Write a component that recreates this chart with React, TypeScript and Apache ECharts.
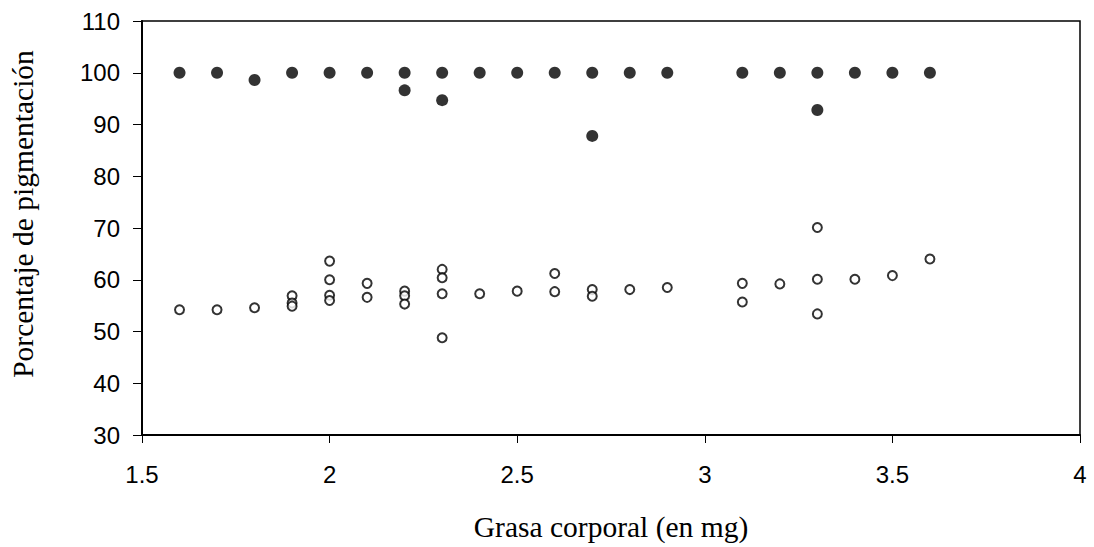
import React, { useEffect, useRef } from "react";
import * as echarts from "echarts";

const xTickLabels = ["1.5", "2", "2.5", "3", "3.5", "4"];
const yTickLabels = ["30", "40", "50", "60", "70", "80", "90", "100", "110"];

const filledX = [1.6, 1.7, 1.8, 1.9, 2.0, 2.1, 2.2, 2.2, 2.3, 2.3, 2.4, 2.5, 2.6, 2.7, 2.7, 2.8, 2.9, 3.1, 3.2, 3.3, 3.3, 3.4, 3.5, 3.6];
const filledY = [100, 100, 98.6, 100, 100, 100, 100, 96.6, 100, 94.7, 100, 100, 100, 100, 87.8, 100, 100, 100, 100, 100, 92.8, 100, 100, 100];

const openX = [1.6, 1.7, 1.8, 1.9, 1.9, 1.9, 2.0, 2.0, 2.0, 2.0, 2.1, 2.1, 2.2, 2.2, 2.2, 2.3, 2.3, 2.3, 2.3, 2.4, 2.5, 2.6, 2.6, 2.7, 2.7, 2.8, 2.9, 3.1, 3.1, 3.2, 3.3, 3.3, 3.3, 3.4, 3.5, 3.6];
const openY = [54.2, 54.2, 54.6, 56.9, 55.5, 54.9, 63.6, 60.0, 57.0, 56.0, 59.3, 56.6, 57.8, 56.9, 55.3, 62.0, 60.4, 57.3, 48.8, 57.3, 57.8, 61.2, 57.7, 58.1, 56.8, 58.1, 58.5, 59.3, 55.7, 59.2, 70.1, 60.1, 53.4, 60.1, 60.8, 64.0];

const xTitle = "Grasa corporal (en mg)";
const yTitle = "Porcentaje de pigmentación";

export default function App() {
  const ref = useRef<HTMLDivElement>(null);
  useEffect(() => {
    document.body.style.margin = "0";
    const chart = echarts.init(ref.current!, null, { renderer: "svg" });
    const sans = "'Liberation Sans', Arial, sans-serif";
    const serif = "'Liberation Serif', 'Times New Roman', serif";
    chart.setOption({
      animation: false,
      backgroundColor: "#ffffff",
      grid: {
        left: 142,
        right: 14,
        top: 21,
        bottom: 112,
        show: true,
        borderColor: "#000",
        borderWidth: 1.5,
        backgroundColor: "transparent",
      },
      graphic: [
        {
          type: "text",
          x: 23,
          y: 214,
          rotation: Math.PI / 2,
          style: {
            text: yTitle,
            font: `29.5px ${serif}`,
            fill: "#000",
            textAlign: "center",
            textVerticalAlign: "middle",
          },
        },
      ],
      xAxis: {
        type: "value",
        min: 1.5,
        max: 4,
        interval: 0.5,
        name: xTitle,
        nameLocation: "middle",
        nameGap: 77,
        nameTextStyle: { fontFamily: serif, fontSize: 29.5, color: "#000" },
        axisLine: { show: true, lineStyle: { color: "#000", width: 2 } },
        axisTick: { show: true, inside: false, length: 8, lineStyle: { color: "#000", width: 1 } },
        axisLabel: {
          margin: 27,
          fontFamily: sans,
          fontSize: 24,
          color: "#000",
          formatter: (v: number) => xTickLabels[Math.round((v - 1.5) / 0.5)] ?? String(v),
        },
        splitLine: { show: false },
      },
      yAxis: {
        type: "value",
        min: 30,
        max: 110,
        interval: 10,
        axisLine: { show: true, lineStyle: { color: "#000", width: 2 } },
        axisTick: { show: true, inside: false, length: 9, lineStyle: { color: "#000", width: 1 } },
        axisLabel: {
          margin: 22,
          fontFamily: sans,
          fontSize: 24,
          color: "#000",
          formatter: (v: number) => yTickLabels[Math.round((v - 30) / 10)] ?? String(v),
        },
        splitLine: { show: false },
      },
      series: [
        {
          type: "scatter",
          data: openX.map((x, i) => [x, openY[i]]),
          symbol: "circle",
          symbolSize: 9,
          itemStyle: { color: "#fff", borderColor: "#000", borderWidth: 2 },
        },
        {
          type: "scatter",
          data: filledX.map((x, i) => [x, filledY[i]]),
          symbol: "circle",
          symbolSize: 12,
          itemStyle: { color: "#000" },
        },
      ],
    });
    return () => chart.dispose();
  }, []);
  return <div ref={ref} style={{ width: 1094, height: 547 }} />;
}
